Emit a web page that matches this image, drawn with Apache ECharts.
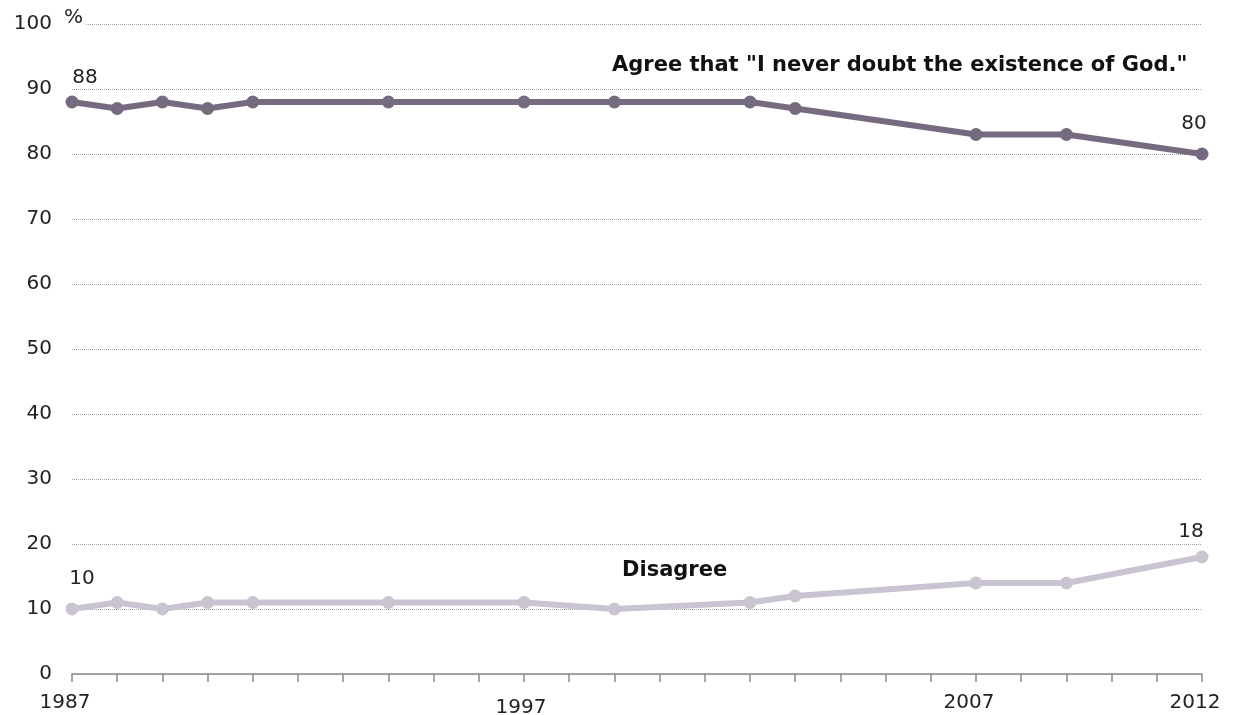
<!DOCTYPE html>
<html><head><meta charset="utf-8">
<script src="https://cdn.jsdelivr.net/npm/echarts@6/dist/echarts.min.js"></script>
<style>html,body{margin:0;padding:0;background:#fff}#c{width:1233px;height:715px}</style>
</head><body><div id="c"></div>
<script>
const years = [1987, 1988, 1989, 1990, 1991, 1994, 1997, 1999, 2002, 2003, 2007, 2009, 2012];
const agree = [88, 87, 88, 87, 88, 88, 88, 88, 88, 87, 83, 83, 80];
const disagree = [10, 11, 10, 11, 11, 11, 11, 10, 11, 12, 14, 14, 18];
const xTickLabels = [1987, 1997, 2007, 2012];
const agreeName = 'Agree that "I never doubt the existence of God."';
const disagreeName = 'Disagree';

const FONT = 'DejaVu Sans';
const chart = echarts.init(document.getElementById('c'), null, {renderer: 'canvas'});
function pts(vals, firstOff, lastOff) {
  const n = years.length;
  return years.map((y, i) => {
    const d = {value: [y, vals[i]]};
    if (i === 0) d.label = {show: true, offset: firstOff};
    else if (i === n - 1) d.label = {show: true, offset: lastOff};
    return d;
  });
}
const lbl = {show: false, position: 'top', distance: 8, color: '#222', fontFamily: FONT, fontSize: 20,
             formatter: p => p.value[1]};
chart.setOption({
  animation: false,
  grid: {left: 72, right: 31, top: 24, bottom: 41, containLabel: false, outerBoundsMode: 'none'},
  xAxis: {
    type: 'value', min: 1987, max: 2012, interval: 1,
    axisLine: {show: true, lineStyle: {color: '#8a8a8a', width: 1.5}},
    axisTick: {show: true, length: 8, lineStyle: {color: '#8a8a8a', width: 1.5}},
    splitLine: {show: false},
    axisLabel: {
      margin: 19, color: '#222', fontFamily: FONT, fontSize: 20,
      formatter: v => {
        if (!xTickLabels.includes(v)) return '';
        return v === 1997 ? '{low|' + v + '}' : '{n|' + v + '}';
      },
      rich: {
        n: {fontFamily: FONT, fontSize: 20, color: '#222', padding: [0, 14, 0, 0]},
        low: {fontFamily: FONT, fontSize: 20, color: '#222', padding: [5, 6, 0, 0]}
      }
    }
  },
  yAxis: {
    type: 'value', min: 0, max: 100, interval: 10,
    axisLine: {show: false}, axisTick: {show: false},
    axisLabel: {margin: 20, color: '#222', fontFamily: FONT, fontSize: 20},
    splitLine: {show: true, lineStyle: {color: '#a0a0a0', type: [1, 1], width: 1}}
  },
  graphic: [
    {type: 'text', left: 64, top: 8, z: 10, style: {text: '%', font: '20px "DejaVu Sans"', fill: '#222', backgroundColor: '#fff', padding: [0, 2, 0, 0]}},
    {type: 'text', left: 612, top: 55, style: {text: agreeName, font: 'bold 21px "DejaVu Sans"', fill: '#111'}},
    {type: 'text', left: 622, top: 560, style: {text: disagreeName, font: 'bold 21px "DejaVu Sans"', fill: '#111'}}
  ],
  series: [
    {
      name: agreeName, type: 'line', data: pts(agree, [13, 0], [-8, -6]),
      symbol: 'circle', symbolSize: 13,
      lineStyle: {color: '#766a80', width: 6},
      itemStyle: {color: '#766a80'},
      label: lbl
    },
    {
      name: disagreeName, type: 'line', data: pts(disagree, [10, -6], [-11, -1]),
      symbol: 'circle', symbolSize: 13,
      lineStyle: {color: '#cac4d2', width: 6},
      itemStyle: {color: '#cac4d2'},
      label: lbl
    }
  ]
});
</script></body></html>
